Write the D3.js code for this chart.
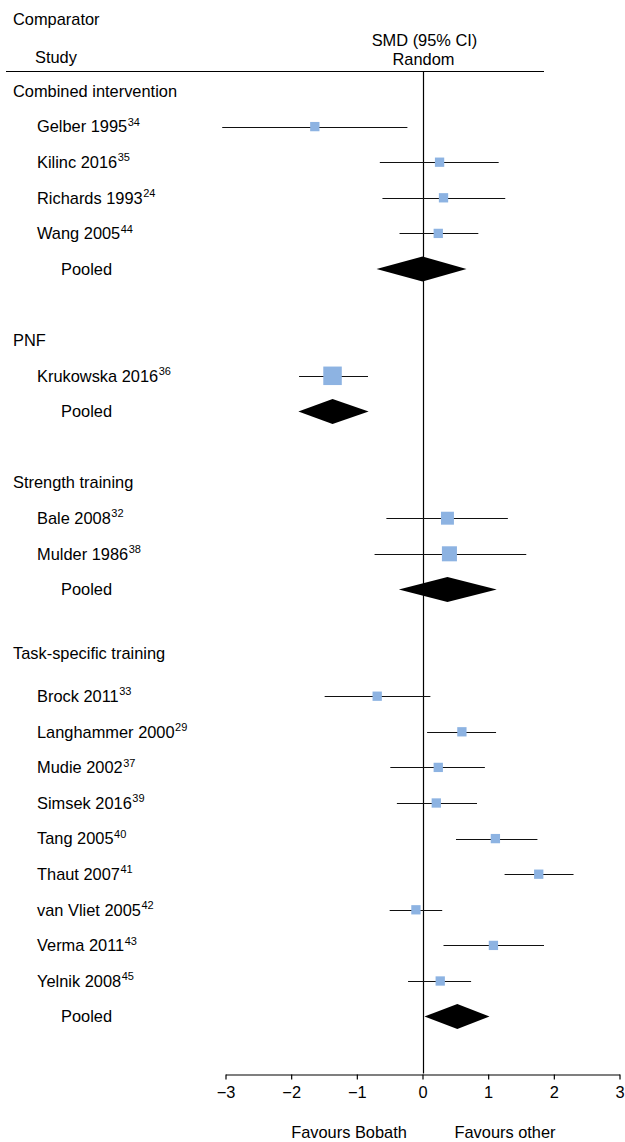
<!DOCTYPE html>
<html><head><meta charset="utf-8">
<script src="https://cdn.jsdelivr.net/npm/d3@7"></script>
<style>body{margin:0;background:#fff} svg{display:block} text{font-family:"Liberation Sans",Arial,sans-serif;fill:#000}</style>
</head><body><svg id="c" width="625" height="1142"></svg>
<script>
const groups = ["Combined intervention","PNF","Strength training","Task-specific training"];
const studyGroup = [0,0,0,0,1,2,2,3,3,3,3,3,3,3,3,3];
const studyNames = ["Gelber 1995","Kilinc 2016","Richards 1993","Wang 2005","Krukowska 2016","Bale 2008","Mulder 1986","Brock 2011","Langhammer 2000","Mudie 2002","Simsek 2016","Tang 2005","Thaut 2007","van Vliet 2005","Verma 2011","Yelnik 2008"];
const studyRefs = ["34","35","24","44","36","32","38","33","29","37","39","40","41","42","43","45"];
const smd    = [-1.64, 0.26, 0.32, 0.24,-1.37, 0.38, 0.41,-0.69, 0.60, 0.24, 0.21, 1.11, 1.77,-0.10, 1.08, 0.27];
const ciLow  = [-3.05,-0.65,-0.61,-0.35,-1.88,-0.55,-0.73,-1.49, 0.07,-0.49,-0.39, 0.51, 1.25,-0.50, 0.32,-0.22];
const ciHigh = [-0.23, 1.16, 1.26, 0.85,-0.83, 1.30, 1.58, 0.12, 1.12, 0.95, 0.83, 1.75, 2.30, 0.30, 1.85, 0.74];
const weights = [25,25,25,25,100,49,66,24,24,24,24,24,24,24,24,24];
const pooledSmd  = [0.00,-1.37,0.38,0.53];
const pooledLow  = [-0.70,-1.89,-0.36,0.03];
const pooledHigh = [0.67,-0.82,1.13,1.02];
const xTicks = [-3,-2,-1,0,1,2,3];
const headerLeft = "Comparator", headerStudy = "Study", headerSmd = "SMD (95% CI)", headerModel = "Random";
const favourLeft = "Favours Bobath", favourRight = "Favours other";

const svg = d3.select("#c");
const FS = 16.4;
const x = d3.scaleLinear().domain([-3,3]).range([225.5,619.5]);
const y = d3.scaleLinear().domain([0,1]).range([91,126.6]);
const size = d3.scaleSqrt().domain([0,100]).range([0,18.5]);

// build rows
const rows = [];
let idx = 0;
groups.forEach((g,gi)=>{
  if (gi>0) idx += 1;
  rows.push({type:"header", label:g, i:idx, lift: gi===3?7:0}); idx++;
  studyNames.forEach((s,si)=>{
    if (studyGroup[si]===gi){ rows.push({type:"study", si, i:idx}); idx++; }
  });
  rows.push({type:"pooled", gi, i:idx}); idx++;
});
const axisIdx = idx + 0.6;

// header
svg.append("text").attr("x",13).attr("y",19).attr("dy","0.35em").attr("font-size",FS).text(headerLeft);
svg.append("text").attr("x",35).attr("y",57).attr("dy","0.35em").attr("font-size",FS).text(headerStudy);
svg.append("text").attr("x",x(0)+2).attr("y",40).attr("dy","0.35em").attr("text-anchor","middle").attr("font-size",FS).text(headerSmd);
svg.append("text").attr("x",x(0)+1).attr("y",59).attr("dy","0.35em").attr("text-anchor","middle").attr("font-size",FS).text(headerModel);
svg.append("line").attr("x1",6).attr("x2",544).attr("y1",71.5).attr("y2",71.5).attr("stroke","#000").attr("stroke-width",1.2);

// zero line
svg.append("line").attr("x1",Math.round(x(0))+0.5).attr("x2",Math.round(x(0))+0.5)
  .attr("y1",72).attr("y2",y(axisIdx)).attr("stroke","#000").attr("stroke-width",1.2);

// labels
rows.forEach(r=>{
  const yy = y(r.i) - (r.lift||0);
  if (r.type==="header"){
    svg.append("text").attr("x",13).attr("y",yy).attr("dy","0.35em").attr("font-size",FS).text(r.label);
  } else if (r.type==="study"){
    const t = svg.append("text").attr("x",37).attr("y",yy).attr("dy","0.35em").attr("font-size",FS);
    t.append("tspan").text(studyNames[r.si]);
    t.append("tspan").attr("font-size",11).attr("dy","-0.6em").attr("dx","0.5").text(studyRefs[r.si]);
  } else {
    svg.append("text").attr("x",61).attr("y",yy).attr("dy","0.35em").attr("font-size",FS).text("Pooled");
  }
});

// CI lines and squares
const studyRows = rows.filter(r=>r.type==="study");
svg.append("g").selectAll("line").data(studyRows).join("line")
  .attr("x1",r=>x(ciLow[r.si])).attr("x2",r=>x(ciHigh[r.si]))
  .attr("y1",r=>Math.round(y(r.i))+0.5).attr("y2",r=>Math.round(y(r.i))+0.5)
  .attr("stroke","#111").attr("stroke-width",1.2);
svg.append("g").selectAll("rect").data(studyRows).join("rect")
  .attr("x",r=>x(smd[r.si]) - Math.max(9.3,size(weights[r.si]))/2)
  .attr("y",r=>y(r.i) - Math.max(9.3,size(weights[r.si]))/2)
  .attr("width",r=>Math.max(9.3,size(weights[r.si])))
  .attr("height",r=>Math.max(9.3,size(weights[r.si])))
  .attr("fill","#8db3e2");

// diamonds
const pooledRows = rows.filter(r=>r.type==="pooled");
svg.append("g").selectAll("path").data(pooledRows).join("path")
  .attr("d",r=>{
    const yy = y(r.i), h = 12.5;
    return `M${x(pooledLow[r.gi])},${yy}L${x(pooledSmd[r.gi])},${yy-h}L${x(pooledHigh[r.gi])},${yy}L${x(pooledSmd[r.gi])},${yy+h}Z`;
  }).attr("fill","#000");

// axis
const ay = Math.round(y(axisIdx))+0.5;
const ax = svg.append("g").attr("transform",`translate(0,${ay})`)
  .call(d3.axisBottom(x).tickValues(xTicks).tickSize(5).tickSizeOuter(0).tickPadding(7).tickFormat(d3.format("d")));
ax.select(".domain").attr("stroke","#000").attr("stroke-width",1.2);
ax.selectAll(".tick line").attr("stroke","#000").attr("stroke-width",1.2);
ax.selectAll(".tick text").attr("font-size",FS).attr("font-family","Liberation Sans, Arial, sans-serif").attr("fill","#000");

svg.append("text").attr("x",349).attr("y",1132).attr("dy","0.35em").attr("text-anchor","middle").attr("font-size",FS).text(favourLeft);
svg.append("text").attr("x",505).attr("y",1132).attr("dy","0.35em").attr("text-anchor","middle").attr("font-size",FS).text(favourRight);
</script></body></html>
